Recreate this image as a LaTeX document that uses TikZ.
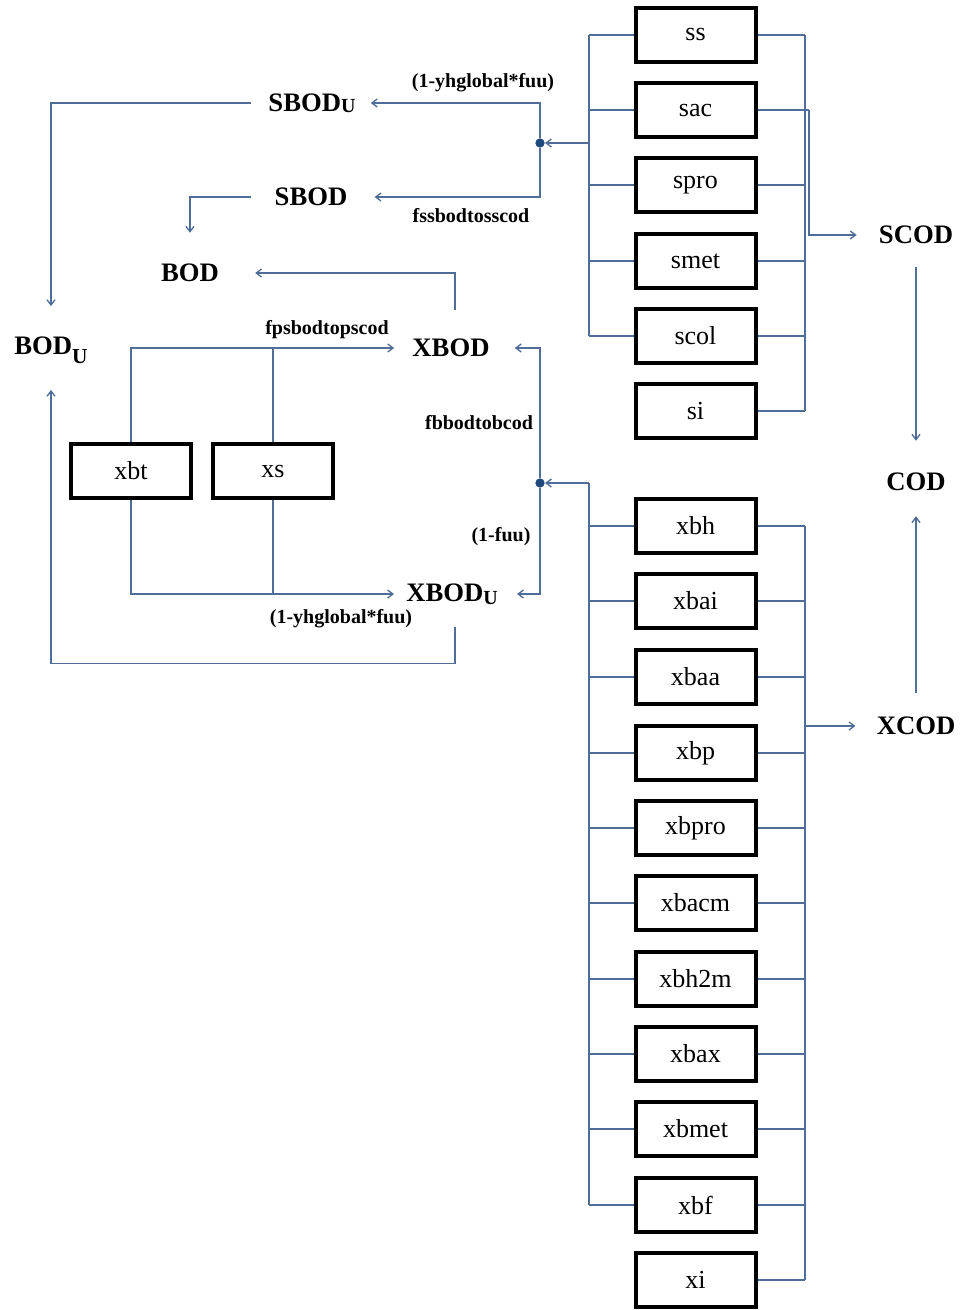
\documentclass[tikz,border=0pt]{standalone}
\usepackage{fontspec}
\setmainfont{Liberation Serif}
\usetikzlibrary{arrows.meta,calc}
\definecolor{connc}{RGB}{79,109,153}
\definecolor{dotc}{RGB}{31,73,125}
\begin{document}
\begin{tikzpicture}[x=0.75pt,y=-0.75pt,
  box/.style={draw=black,line width=3pt,minimum width=90pt,minimum height=40.5pt,inner sep=0pt,font=\fontsize{19.5}{22}\selectfont},
  big/.style={inner sep=0pt,font=\fontsize{20}{24}\selectfont\bfseries},
  small/.style={inner sep=0pt,font=\fontsize{15}{17}\selectfont\bfseries},
  line/.style={draw=connc,line width=1pt},
  arr/.style={line,-{Straight Barb[length=4pt,width=6pt]}},
  jdot/.style={circle,fill=dotc,inner sep=0pt,minimum size=7pt}]
\useasboundingbox (0,0) rectangle (963,1310);

% right column, soluble
\node[box] (ss)    at (695.5,35)  {ss};
\node[box] (sac)   at (695.5,110) {sac};
\node[box] (spro)  at (695.5,185) {spro};
\node[box] (smet)  at (695.5,261) {smet};
\node[box] (scol)  at (695.5,336) {scol};
\node[box] (si)    at (695.5,411) {si};
% right column, particulate
\node[box] (xbh)   at (695.5,526)  {xbh};
\node[box] (xbai)  at (695.5,601)  {xbai};
\node[box] (xbaa)  at (695.5,677)  {xbaa};
\node[box] (xbp)   at (695.5,753)  {xbp};
\node[box] (xbpro) at (695.5,828)  {xbpro};
\node[box] (xbacm) at (695.5,903)  {xbacm};
\node[box] (xbhtm) at (695.5,979)  {xbh2m};
\node[box] (xbax)  at (695.5,1054) {xbax};
\node[box] (xbmet) at (695.5,1129) {xbmet};
\node[box] (xbf)   at (695.5,1205) {xbf};
\node[box] (xi)    at (695.5,1280) {xi};
% left boxes
\node[box] (xbt) at (131,471) {xbt};
\node[box] (xs)  at (273,471) {xs};

% labels
\node[big] (SBODU) at (312,103) {SBOD\raisebox{-1pt}{\fontsize{15}{16}\selectfont U}};
\node[big] (SBOD)  at (311,197) {SBOD};
\node[big] (BOD)   at (190,273) {BOD};
\node[big] (BODU)  at (51,350)  {BOD\raisebox{-7pt}{\fontsize{16}{16}\selectfont U}};
\node[big] (XBOD)  at (451,348) {XBOD};
\node[big] (XBODU) at (452,594) {XBOD\raisebox{-2pt}{\fontsize{15}{16}\selectfont U}};
\node[big] (SCOD)  at (916,235) {SCOD};
\node[big] (COD)   at (916,482) {COD};
\node[big] (XCOD)  at (916,726) {XCOD};

\node[small] (l1) at (483,83)  {(1-yhglobal*fuu)};
\node[small] (l2) at (471,216) {fssbodtosscod};
\node[small] (l3) at (327,330) {fpsbodtopscod};
\node[small] (l4) at (479,423) {fbbodtobcod};
\node[small] (l5) at (501,537) {(1-fuu)};
\node[small] (l6) at (341,619) {(1-yhglobal*fuu)};

% junctions
\coordinate (LB) at (589,0);
\coordinate (RB) at (805,0);
\coordinate (RB2) at (809,0);
\node[jdot] (dotS) at (540,143) {};
\node[jdot] (dotX) at (540,483) {};

% soluble buses
\foreach \n in {ss,sac,spro,smet,scol} \draw[line] (\n.west) -- (\n.west -| LB);
\draw[line] (ss.west -| LB) -- (scol.west -| LB);
\draw[arr] (dotS -| LB) -- (dotS);
\foreach \n in {ss,spro,smet,scol,si} \draw[line] (\n.east) -- (\n.east -| RB);
\draw[line] (ss.east -| RB) -- (si.east -| RB);
\draw[line] (sac.east) -- (sac.east -| RB2);
\draw[arr] (sac.east -| RB2) |- ($(SCOD.west)+(-22,0)$);

% particulate buses
\foreach \n in {xbh,xbai,xbaa,xbp,xbpro,xbacm,xbhtm,xbax,xbmet,xbf} \draw[line] (\n.west) -- (\n.west -| LB);
\draw[line] (dotX -| LB) -- (xbf.west -| LB);
\draw[arr] (dotX -| LB) -- (dotX);
\foreach \n in {xbh,xbai,xbaa,xbp,xbpro,xbacm,xbhtm,xbax,xbmet,xbf,xi} \draw[line] (\n.east) -- (\n.east -| RB);
\draw[line] (xbh.east -| RB) -- (xi.east -| RB);
\draw[arr] (XCOD.west -| RB) -- ($(XCOD.west)+(-21,0)$);

% COD
\draw[arr] ($(SCOD.south)+(0,23)$) -- ($(COD.north)+(0,-32)$);
\draw[arr] ($(XCOD.north)+(0,-24)$) -- ($(COD.south)+(0,25)$);

% left side
\draw[arr] (dotS) |- ($(SBODU.east)+(15,0)$);
\draw[arr] (dotS) |- ($(SBOD.east)+(27,0)$);
\draw[arr] ($(SBODU.west)+(-17,0)$) -| ($(BODU.north)+(0,-30)$);
\draw[arr] ($(SBOD.west)+(-23,0)$) -| ($(BOD.north)+(0,-31)$);
\draw[arr] ($(XBOD.north)+(4,-29)$) |- ($(BOD.east)+(36,0)$);
\draw[arr] (xbt.north) |- ($(XBOD.west)+(-18,0)$);
\draw[line] (xs.north) -- (xs.north |- XBOD.west);
\draw[arr] (xbt.south) |- ($(XBODU.west)+(-12,0)$);
\draw[line] (xs.south) -- (xs.south |- XBODU.west);
\draw[arr] (dotX) |- ($(XBOD.east)+(25,0)$);
\draw[arr] (dotX) |- ($(XBODU.east)+(19,0)$);
\draw[arr] ($(XBODU.south)+(3,22)$) -- ++(0,37) -| ($(BODU.south)+(0,26)$);
\end{tikzpicture}
\end{document}
